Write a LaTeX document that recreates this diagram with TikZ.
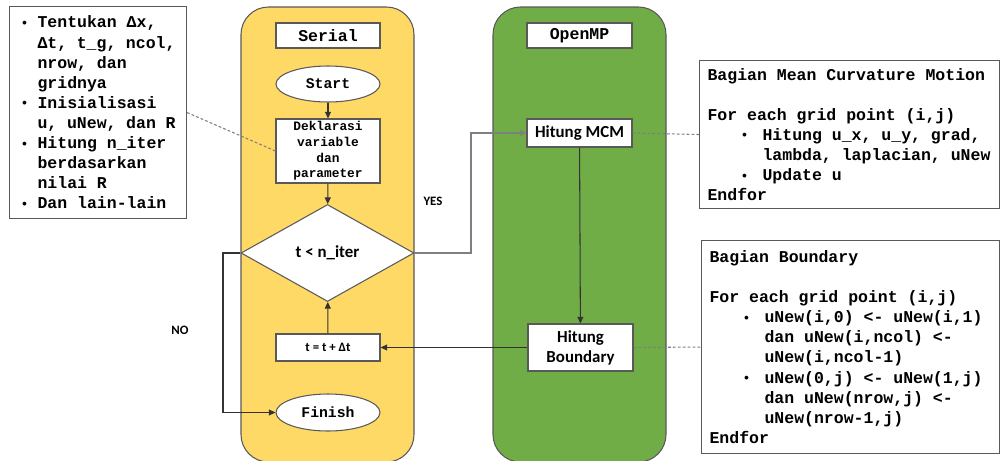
\documentclass[tikz,border=0pt]{standalone}
\usepackage{fontspec}
\usepackage{graphicx}
\usetikzlibrary{shapes.geometric,arrows.meta}
\newfontfamily\cour{Liberation Mono}
\newfontfamily\calib{Carlito}
\newlength\px \setlength\px{0.02cm}
\definecolor{laneY}{HTML}{FFD966}
\definecolor{laneG}{HTML}{70AD47}
\definecolor{edge}{HTML}{595959}
\definecolor{conn}{HTML}{333333}
\definecolor{connG}{HTML}{7F7F7F}
\newcommand\fixsp{\spaceskip=0pt\relax\xspaceskip=0pt\relax}
\newcommand\smbul{\raisebox{0.05ex}{\scalebox{0.8}{\textbullet}}}
\newcommand\bulA{\makebox[17\px][l]{\smbul}}
\newcommand\indA{\hspace*{17\px}}
\newcommand\bulB{\hspace*{33\px}\makebox[22\px][l]{\smbul}}
\newcommand\indB{\hspace*{55\px}}
\begin{document}
\begin{tikzpicture}[x=0.02cm,y=-0.02cm,
  sz/.style 2 args={minimum width=#1*0.02cm,minimum height=#2*0.02cm},
  lane/.style={draw=edge,line width=0.6pt,rounded corners=0.55cm,inner sep=0pt},
  fbox/.style={draw=edge,line width=0.6pt,fill=white,inner sep=0pt},
  monoL/.style={font=\cour\bfseries\fontsize{9.4}{11.45}\selectfont},
  monoS/.style={font=\cour\bfseries\fontsize{8.4}{10}\selectfont},
  monoXS/.style={font=\cour\bfseries\fontsize{7.3}{8.9}\selectfont},
  calL/.style={font=\calib\bfseries\fontsize{9.6}{11.3}\selectfont},
  calS/.style={font=\calib\bfseries\fontsize{7.3}{9}\selectfont},
  arr/.style={draw=conn,line width=0.6pt,-{Triangle[length=3.8pt,width=3.4pt]}},
  arrG/.style={draw=connG,line width=0.7pt,-{Triangle[length=3.8pt,width=3.4pt]}},
  dotline/.style={draw=connG,line width=0.6pt,dash pattern=on 1.6pt off 1.2pt},
]
\useasboundingbox (0,0) rectangle (1001,460);

% lanes
\node[lane,fill=laneY,sz={173}{455}] (laneS) at (327.5,234.5) {};
\node[lane,fill=laneG,sz={173}{455}] (laneO) at (579.5,234.5) {};

% serial column
\node[fbox,sz={104}{25},monoL] (serial) at (328,35.5) {Serial};
\node[fbox,ellipse,sz={104}{36},monoS] (start) at (328,84) {Start};
\node[fbox,sz={104}{64},align=center,monoXS] (dekl) at (328,151) {Deklarasi\\variable\\dan\\parameter};
\node[fbox,diamond,sz={173}{97},calL] (dia) at (327.5,253) {t < n\_iter};
\node[fbox,sz={104}{27},calS] (tdt) at (328,347.5) {t = t + Δt};
\node[fbox,ellipse,sz={104}{37},monoS] (fin) at (328,412.5) {Finish};

% openmp column
\node[fbox,sz={105}{25},monoL] (omp) at (579.5,35.5) {OpenMP};
\node[fbox,sz={105}{28},calL] (mcm) at (579.5,133) {Hitung MCM};
\node[fbox,sz={105}{47},align=center,calL] (bnd) at (580.5,347.5) {Hitung\\Boundary};

% text boxes
\node[fbox,anchor=north west,sz={177}{212},monoL,align=flush left,text width=155*0.02cm,inner xsep=0.22cm] (ltext) at (9,6)
{\fixsp\bulA Tentukan Δx,\\
 \indA Δt, t\_g, ncol,\\
 \indA nrow, dan\\
 \indA gridnya\\
 \bulA Inisialisasi\\
 \indA u, uNew, dan R\\
 \bulA Hitung n\_iter\\
 \indA berdasarkan\\
 \indA nilai R\\
 \bulA Dan lain-lain};

\node[fbox,anchor=north west,sz={300}{148},monoL,align=flush left,text width=284*0.02cm,inner xsep=0.16cm] (mtext) at (699,60)
{\fixsp Bagian Mean Curvature Motion\\[11.45pt]
 For each grid point (i,j)\\
 \bulB\mbox{Hitung u\_x, u\_y, grad,}\\
 \indB\mbox{lambda, laplacian, uNew}\\
 \bulB Update u\\
 Endfor};

\node[fbox,anchor=north west,sz={298}{213},monoL,align=flush left,text width=282*0.02cm,inner xsep=0.16cm] (btext) at (701,240)
{\fixsp Bagian Boundary\\[11.45pt]
 For each grid point (i,j)\\
 \bulB\mbox{uNew(i,0) <- uNew(i,1)}\\
 \indB\mbox{dan uNew(i,ncol) <-}\\
 \indB uNew(i,ncol-1)\\
 \bulB\mbox{uNew(0,j) <- uNew(1,j)}\\
 \indB\mbox{dan uNew(nrow,j) <-}\\
 \indB uNew(nrow-1,j)\\
 Endfor};

% labels
\node[calS] (yes) at (433,201) {YES};
\node[calS] (no) at (180,330) {NO};

% connectors
\draw[arr] (start) -- (dekl);
\draw[arr] (dekl) -- (dia);
\coordinate (yx) at (471,253);
\draw[arrG] (dia.east) -- (yx) |- (mcm.west);
\draw[arr] (mcm) -- (bnd);
\draw[arr] (bnd.west) -- (tdt.east);
\draw[arr] (tdt) -- (dia);
\coordinate (nx) at (223,253);
\draw[arr] (dia.west) -- (nx) |- (fin.west);

\draw[dotline] (ltext.east) -- (dekl.west);
\draw[dotline] (mcm.east) -- (mtext.west);
\draw[dotline] (bnd.east) -- (btext.west);
\end{tikzpicture}
\end{document}
